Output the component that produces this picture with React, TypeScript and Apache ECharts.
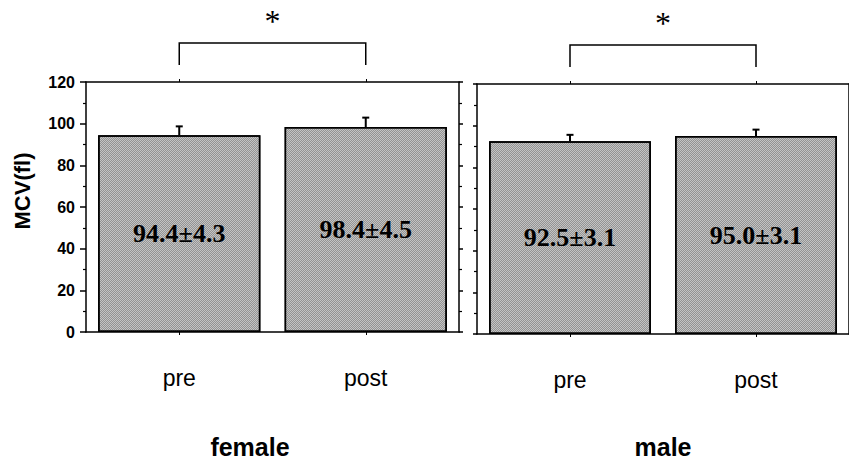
import React, { useEffect, useRef } from "react";
import * as echarts from "echarts";

// Measurement phases on the x axis of each panel
const phases = ["pre", "post"];
// Panel titles
const groups = ["female", "male"];
// Mean MCV (fl) and standard deviation per phase
const femaleMean = [94.4, 98.4];
const femaleSd = [4.3, 4.5];
const maleMean = [92.5, 95.0];
const maleSd = [3.1, 3.1];
// Value axis range
const yMin = 0;
const yMax = 120;
const yStep = 20;
const yName = "MCV(fl)";
const sigMark = "*";

const BAR_FILL = "#c4c4c4";

const labelFont = {
  fontFamily: "Liberation Serif, serif",
  fontWeight: "bold" as const,
  fontSize: 26,
  color: "#000",
};

function barSeries(axis: number, means: number[], sds: number[]) {
  return {
    type: "bar",
    xAxisIndex: axis,
    yAxisIndex: axis,
    data: means,
    barWidth: "87%",
    itemStyle: {
      color: BAR_FILL,
      borderColor: "#000",
      borderWidth: 1.5,
      decal: {
        symbol: "rect",
        symbolSize: 1,
        dashArrayX: [
          [1, 1],
          [0, 1, 1, 0],
        ],
        dashArrayY: [1, 0],
        color: "rgba(0,0,0,0.25)",
        rotation: 0,
      },
    },
    label: {
      show: true,
      position: "inside",
      formatter: (p: any) =>
        `${means[p.dataIndex].toFixed(1)}±${sds[p.dataIndex].toFixed(1)}`,
      ...labelFont,
    },
    z: 2,
  };
}

function errorSeries(axis: number, means: number[], sds: number[]) {
  return {
    type: "custom",
    xAxisIndex: axis,
    yAxisIndex: axis,
    data: means.map((m, i) => [i, m, m + sds[i]]),
    renderItem: (_params: any, api: any) => {
      const base = api.coord([api.value(0), api.value(1)]);
      const top = api.coord([api.value(0), api.value(2)]);
      const hw = 3.5;
      return {
        type: "group",
        children: [
          {
            type: "line",
            shape: { x1: base[0], y1: base[1], x2: top[0], y2: top[1] },
            style: { stroke: "#000", lineWidth: 2 },
          },
          {
            type: "line",
            shape: { x1: top[0] - hw, y1: top[1], x2: top[0] + hw, y2: top[1] },
            style: { stroke: "#000", lineWidth: 2 },
          },
        ],
      };
    },
    z: 3,
  };
}

const axisLine = { show: true, onZero: false, lineStyle: { color: "#000", width: 1.5 } };

function categoryAxis(grid: number, position: string) {
  const bottom = position === "bottom";
  return {
    type: "category",
    gridIndex: grid,
    position,
    data: phases,
    axisLine,
    axisTick: { show: true, alignWithLabel: true, length: 3, lineStyle: { color: "#000" } },
    axisLabel: bottom
      ? {
          margin: 34,
          fontFamily: "Liberation Sans, Arial, sans-serif",
          fontSize: 23,
          color: "#000",
        }
      : { show: false },
  };
}

function valueAxis(grid: number, position: string, labels: boolean) {
  return {
    type: "value",
    gridIndex: grid,
    position,
    min: yMin,
    max: yMax,
    interval: yStep,
    axisLine,
    axisTick: { show: true, length: labels ? 6 : 4, lineStyle: { color: "#000", width: 1.5 } },
    minorTick: { show: true, splitNumber: 2, length: 3, lineStyle: { color: "#000", width: 1.2 } },
    splitLine: { show: false },
    axisLabel: labels
      ? {
          show: true,
          margin: 11,
          fontFamily: "Liberation Sans Narrow, Liberation Sans, Arial, sans-serif",
          fontWeight: "bold",
          fontSize: 16,
          color: "#000",
        }
      : { show: false },
  };
}

export default function App() {
  const ref = useRef<HTMLDivElement>(null);

  useEffect(() => {
    if (!ref.current) return;
    const chart = echarts.init(ref.current, null, { renderer: "svg" });

    const grids = [
      { left: 86, top: 82, width: 373, height: 250 },
      { left: 477, top: 84, width: 376, height: 250 },
    ];

    chart.setOption({
      animation: false,
      backgroundColor: "#fff",
      grid: grids,
      // indices 0,1: bottom axes of the two panels; 2,3: their top edges
      xAxis: [
        categoryAxis(0, "bottom"),
        categoryAxis(1, "bottom"),
        categoryAxis(0, "top"),
        categoryAxis(1, "top"),
      ],
      yAxis: [
        valueAxis(0, "left", true),
        valueAxis(1, "left", false),
        valueAxis(0, "right", false),
        valueAxis(1, "right", false),
      ],
      series: [
        barSeries(0, femaleMean, femaleSd),
        errorSeries(0, femaleMean, femaleSd),
        barSeries(1, maleMean, maleSd),
        errorSeries(1, maleMean, maleSd),
      ],
    });

    // Significance brackets above each panel, anchored on the category centres
    const graphics: any[] = [];
    [0, 1].forEach((g) => {
      const xa = chart.convertToPixel({ xAxisIndex: g }, phases[0]) as number;
      const xb = chart.convertToPixel({ xAxisIndex: g }, phases[1]) as number;
      const gt = grids[g].top;
      const yTop = gt - 39;
      const yEnd = gt - 17;
      graphics.push({
        type: "polyline",
        shape: {
          points: [
            [xa, yEnd],
            [xa, yTop],
            [xb, yTop],
            [xb, yEnd],
          ],
        },
        style: { stroke: "#000", lineWidth: 1.5, fill: "none" },
      });
      graphics.push({
        type: "text",
        x: (xa + xb) / 2,
        y: gt - 61,
        style: {
          text: sigMark,
          fontFamily: "Liberation Serif, serif",
          fontSize: 32,
          fill: "#000",
          align: "center",
          verticalAlign: "middle",
        },
      });
    });
    graphics.push({
      type: "text",
      x: 22,
      y: 191,
      rotation: Math.PI / 2,
      style: {
        text: yName,
        fontFamily: "Liberation Sans, Arial, sans-serif",
        fontWeight: "bold",
        fontSize: 22,
        fill: "#000",
        align: "center",
        verticalAlign: "middle",
      },
    });
    const groupX = [250, 663];
    groups.forEach((name, i) => {
      graphics.push({
        type: "text",
        x: groupX[i],
        y: 447,
        style: {
          text: name,
          fontFamily: "Liberation Sans, Arial, sans-serif",
          fontWeight: "bold",
          fontSize: 25,
          fill: "#000",
          align: "center",
          verticalAlign: "middle",
        },
      });
    });
    chart.setOption({ graphic: graphics });

    return () => chart.dispose();
  }, []);

  return (
    <div
      ref={ref}
      style={{ position: "absolute", left: 0, top: 0, width: 849, height: 463 }}
    />
  );
}
